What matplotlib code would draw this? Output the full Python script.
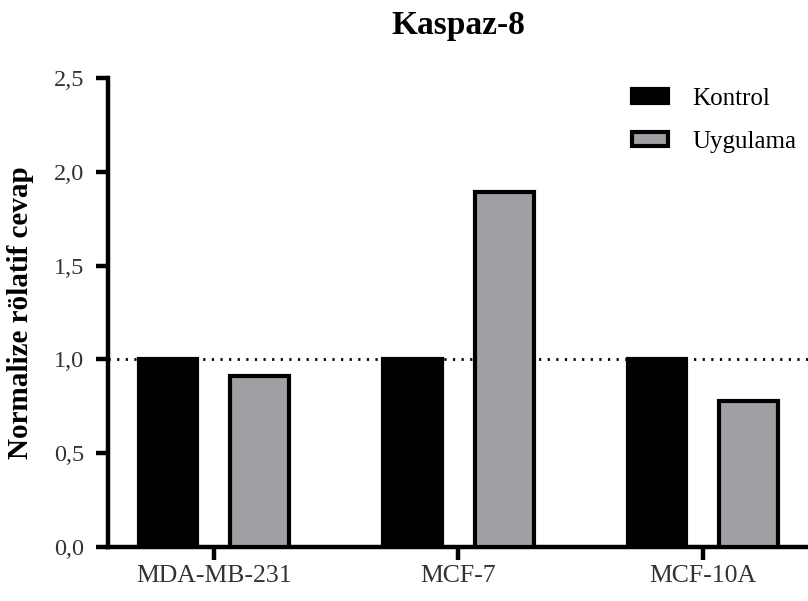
import matplotlib
matplotlib.use("Agg")
import matplotlib.pyplot as plt
import numpy as np
from matplotlib.patches import Patch

# data
cell_lines = ["MDA-MB-231", "MCF-7", "MCF-10A"]
kontrol = [1.0, 1.0, 1.0]
uygulama = [0.91, 1.89, 0.78]
series_names = ["Kontrol", "Uygulama"]
y_ticks = [0.0, 0.5, 1.0, 1.5, 2.0, 2.5]
y_tick_labels = ["0,0", "0,5", "1,0", "1,5", "2,0", "2,5"]
baseline = 1.0

plt.rcParams['font.family'] = ['Liberation Serif', 'DejaVu Serif']

GRAY = '#a0a0a4'
EDGE_W = 3.0
SPINE_W = 3.2

fig = plt.figure(figsize=(8.08, 6.01), dpi=100)
ax = fig.add_axes([108 / 808, 54 / 601, 700 / 808, 469 / 601])

x = np.arange(len(cell_lines))
width = 0.24
offset = 0.188

ax.bar(x - offset, kontrol, width, color='black', edgecolor='black',
       linewidth=EDGE_W, zorder=3)
ax.bar(x + offset, uygulama, width, color=GRAY, edgecolor='black',
       linewidth=EDGE_W, zorder=3)

# dotted reference line at 1.0
ax.axhline(baseline, color='black', linewidth=2, linestyle=(0, (0.8, 2.3)),
           zorder=2, clip_on=False)

ax.set_xlim(-0.433, 2.43)
ax.set_ylim(0, 2.5)
ax.set_xticks(x)
ax.set_xticklabels(cell_lines, fontsize=18.5, color='#333333')
ax.set_yticks(y_ticks)
ax.set_yticklabels(y_tick_labels, fontsize=17.5, color='#333333')

for side in ['top', 'right']:
    ax.spines[side].set_visible(False)
for side in ['left', 'bottom']:
    ax.spines[side].set_linewidth(SPINE_W)
ax.tick_params(axis='y', length=9, width=SPINE_W, pad=8)
ax.tick_params(axis='x', length=9, width=SPINE_W, pad=4)

ax.set_ylabel("Normalize rölatif cevap", fontsize=21, fontweight='bold',
              labelpad=14)
ax.set_title("Kaspaz-8", fontsize=24, fontweight='bold', pad=32)

handles = [Patch(facecolor='black', edgecolor='black', linewidth=EDGE_W),
           Patch(facecolor=GRAY, edgecolor='black', linewidth=EDGE_W)]
fig.legend(handles, series_names, loc='upper left',
           bbox_to_anchor=(632 / 808, 1 - 88 / 601), frameon=False,
           fontsize=18, handlelength=1.45, handleheight=0.5,
           handletextpad=0.95, labelspacing=0.83, borderpad=0,
           borderaxespad=0)

fig.savefig("out.png", dpi=100, facecolor='white')
